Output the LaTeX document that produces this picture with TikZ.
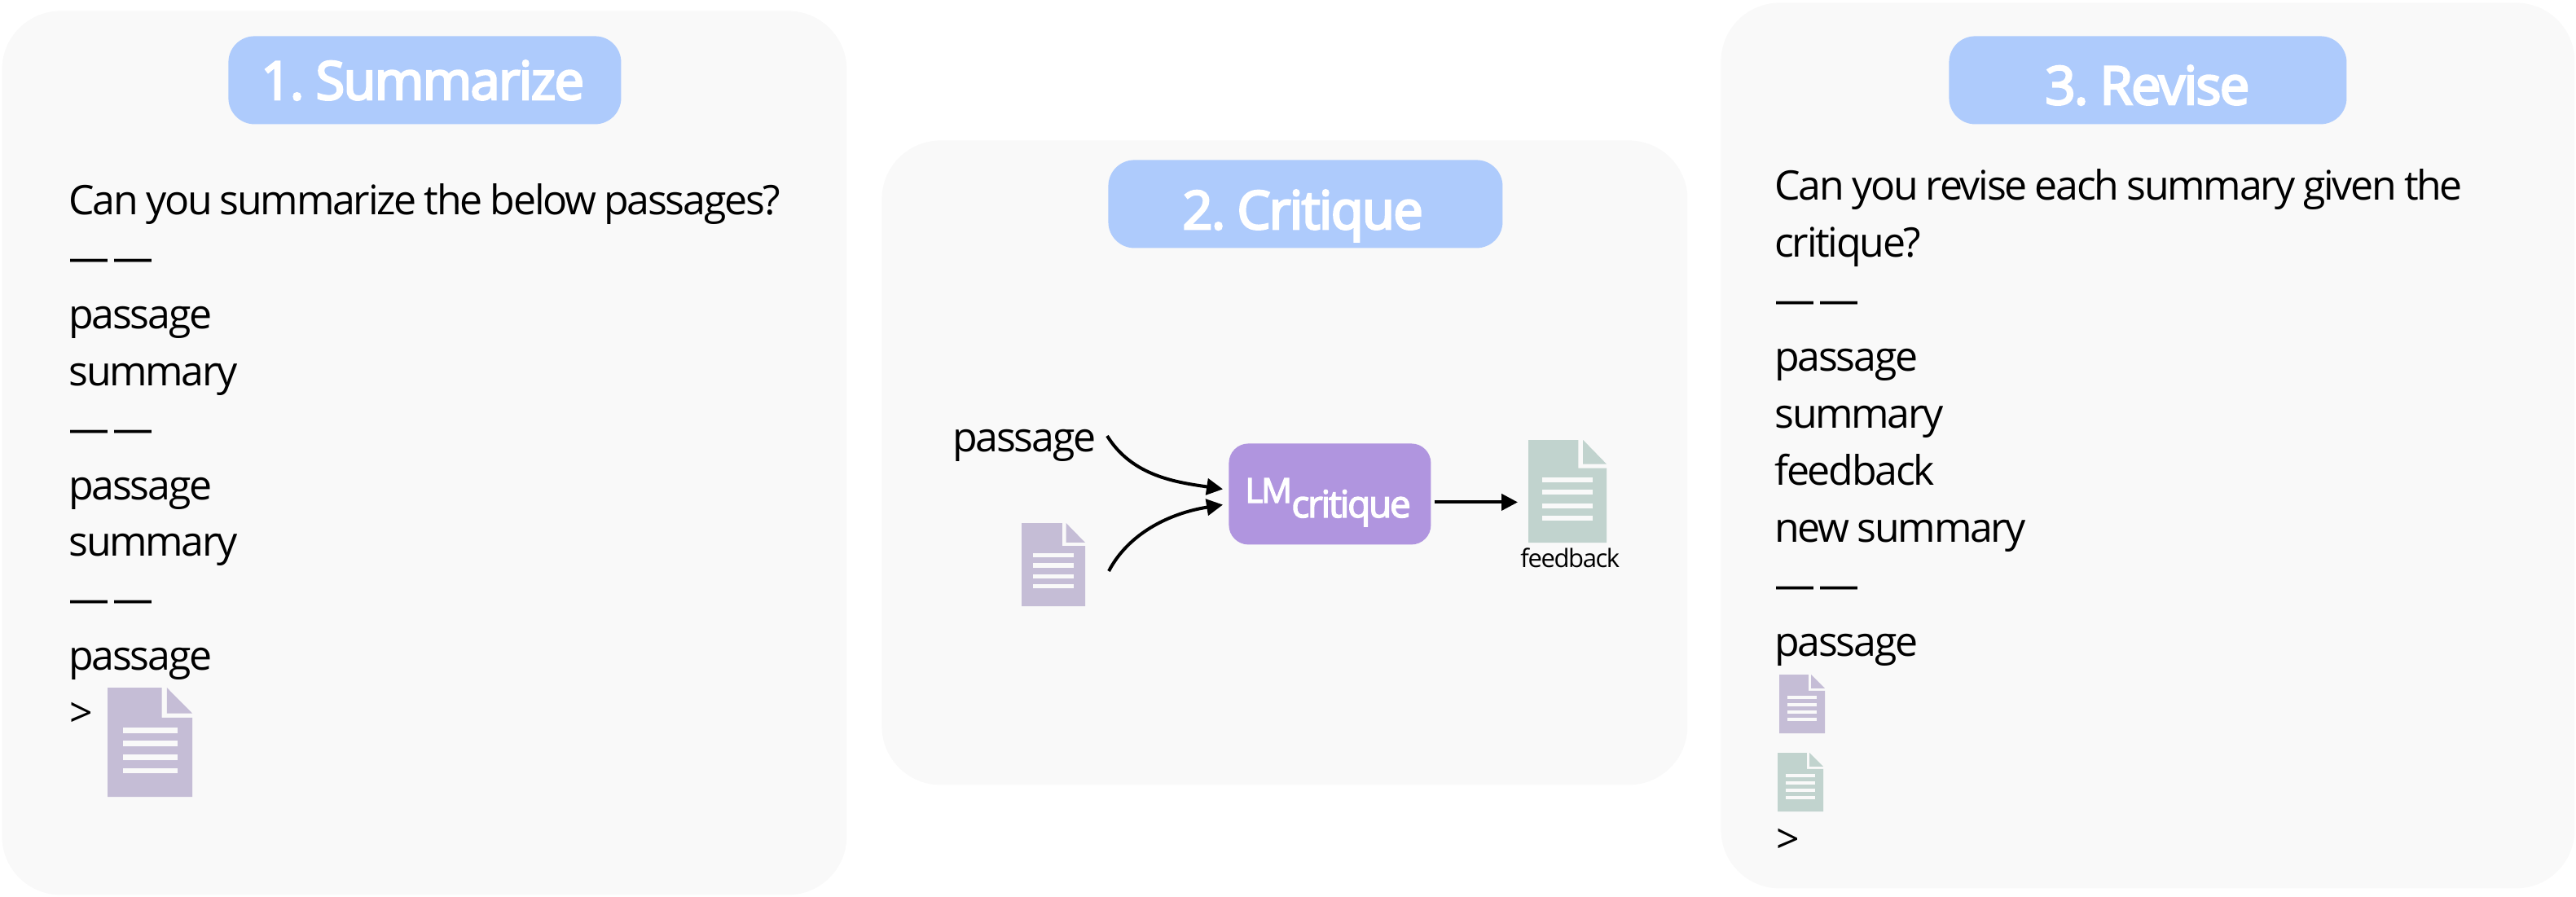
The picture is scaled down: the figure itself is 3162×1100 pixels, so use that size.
\documentclass[tikz,border=0pt]{standalone}
\usepackage{fontspec}
\setmainfont{Open Sans}[LetterSpace=-4.5,WordSpace=0.85]
\newfontfamily\titlefont{Open Sans}[LetterSpace=-2.5,WordSpace=0.6,FakeBold=4]
\newfontfamily\smalltitle{Open Sans}[LetterSpace=-5,FakeBold=3]
\usetikzlibrary{arrows.meta}
\definecolor{panelbg}{HTML}{F9F9F9}
\definecolor{titlebg}{HTML}{AECBFC}
\definecolor{lmbg}{HTML}{B095DF}
\definecolor{docpurple}{HTML}{C5BDD6}
\definecolor{docgreen}{HTML}{C1D3CE}
\tikzset{
  panelbox/.style={fill=panelbg,rounded corners=36pt,inner sep=0pt,anchor=north west},
  titlebox/.style={fill=titlebg,rounded corners=16pt,inner sep=0pt,anchor=north west,minimum height=54pt},
  titletext/.style={text=white,font=\titlefont\fontsize{32.5}{32.5}\selectfont,inner sep=0pt,anchor=base west},
  body/.style={font=\fontsize{25}{25}\selectfont,inner sep=0pt,anchor=base west},
  conn/.style={line width=2pt,-{Triangle[length=10pt,width=10pt]}},
  docnode/.style={inner sep=0pt,anchor=north west}
}
\newcommand{\docicon}[6]{%
  \node[docnode,minimum width=#4*0.5pt,minimum height=#5*0.5pt] (#1) at (#2,#3) {};
  \begin{scope}[shift={(#2,#3)},x=#4*0.5pt,y=-#5*0.5pt]
    \fill[#6] (0,0) -- (0.64,0) -- (0.64,0.275) -- (1,0.275) -- (1,1) -- (0,1) -- cycle;
    \fill[#6] (0.70,0) -- (1,0.235) -- (0.70,0.235) -- cycle;
    \foreach \ly in {0.39,0.51,0.64,0.76}
      \fill[panelbg] (0.18,\ly-0.025) rectangle (0.824,\ly+0.025);
  \end{scope}}
\newcommand{\twodash}{—\hspace{-2.5pt} —}
\begin{document}
\begin{tikzpicture}[x=0.5pt,y=-0.5pt]
\useasboundingbox (0,0) rectangle (3162,1100);
% panels
\node[panelbox,minimum width=518.5pt,minimum height=542.5pt] (p1) at (2,13) {};
\node[panelbox,minimum width=494.5pt,minimum height=395.5pt] (p2) at (1082,172) {};
\node[panelbox,minimum width=524pt,minimum height=543.5pt] (p3) at (2112,3) {};
% titles
\node[titlebox,minimum width=241pt] (t1) at (280,44) {};
\node[titlebox,minimum width=242pt] (t2) at (1360,196) {};
\node[titlebox,minimum width=244pt] (t3) at (2392,44) {};
\node[titletext] (tt1) at (320,122) {1. Summarize};
\node[titletext] (tt2) at (1451,281) {2. Critique};
\node[titletext] (tt3) at (2510,128) {3. Revise};
% panel 1 text
\node[body] (a1) at (84,263) {Can you summarize the below passages?};
\node[body] (a2) at (84,333) {\twodash};
\node[body] (a3) at (84,403) {passage};
\node[body] (a4) at (84,473) {summary};
\node[body] (a5) at (84,543) {\twodash};
\node[body] (a6) at (84,613) {passage};
\node[body] (a7) at (84,682) {summary};
\node[body] (a8) at (84,752) {\twodash};
\node[body] (a9) at (84,822) {passage};
\node[body] (a10) at (85,892) {>};
\docicon{d1}{132}{844}{104}{134}{docpurple}
% panel 2
\node[body] (pass) at (1169,554) {passage};
\node[fill=lmbg,rounded corners=12pt,inner sep=0pt,anchor=north west,minimum width=124pt,minimum height=62pt] (lm) at (1508,544) {};
\node[text=white,inner sep=0pt,anchor=base west,font=\smalltitle\fontsize{21}{21}\selectfont] (lm1) at (1528,617) {LM};
\node[text=white,inner sep=0pt,anchor=base west,font=\smalltitle\fontsize{23}{23}\selectfont] (lm2) at (1585,635) {critique};
\docicon{d2}{1254}{642}{78}{102}{docpurple}
\docicon{d3}{1876}{540}{96}{126}{docgreen}
\node[inner sep=0pt,anchor=base west,font=\fontsize{15.5}{15.5}\selectfont] (fb) at (1866,696) {feedback};
\coordinate (s1) at (1359,535);
\coordinate (s2) at (1361,701);
\draw[conn,shorten >=3.5pt] (s1) .. controls (1390,585) and (1445,592) .. ([yshift=2.5pt]lm.west);
\draw[conn,shorten >=3.5pt] (s2) .. controls (1385,655) and (1435,630) .. ([yshift=-6pt]lm.west);
\draw[conn,shorten <=2pt,shorten >=6.5pt] ([yshift=-5pt]lm.east) -- ([yshift=-5pt]lm.east -| d3.west);
% panel 3
\node[body] (b1) at (2178,245) {Can you revise each summary given the};
\node[body] (b2) at (2178,315) {critique?};
\node[body] (b3) at (2178,385) {\twodash};
\node[body] (b4) at (2178,455) {passage};
\node[body] (b5) at (2178,525) {summary};
\node[body] (b6) at (2178,595) {feedback};
\node[body] (b7) at (2178,665) {new summary};
\node[body] (b8) at (2178,735) {\twodash};
\node[body] (b9) at (2178,805) {passage};
\docicon{d4}{2184}{828}{56}{72}{docpurple}
\docicon{d5}{2182}{924}{56}{72}{docgreen}
\node[body] (b10) at (2180,1047) {>};
\end{tikzpicture}
\end{document}
